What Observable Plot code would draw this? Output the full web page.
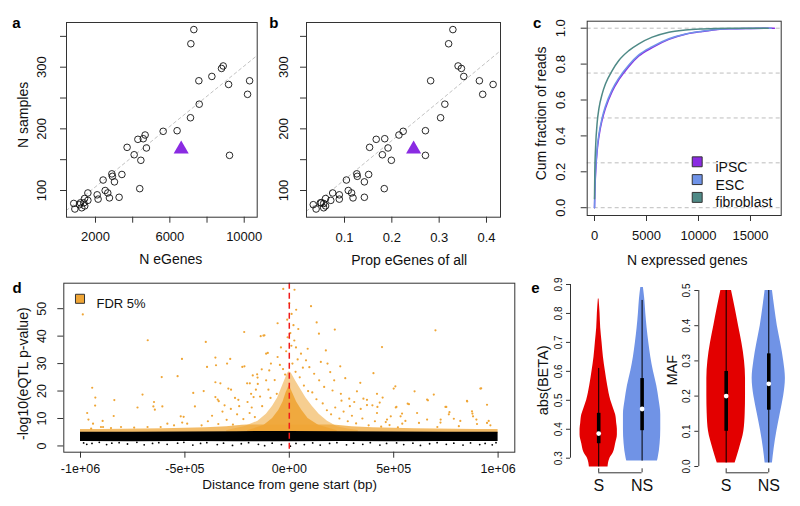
<!DOCTYPE html>
<html><head><meta charset="utf-8">
<script src="https://cdn.jsdelivr.net/npm/d3@7"></script>
<script src="https://cdn.jsdelivr.net/npm/@observablehq/plot@0.6"></script>
<style>
html,body{margin:0;padding:0;background:#fff;}
#fig{position:relative;width:800px;height:506px;overflow:hidden;background:#fff;}
#fig svg{position:absolute;left:0;top:0;}
</style></head><body><div id="fig"></div>
<script>
// ---------- Panels a & b ----------
const nSamples = [361,338,302,298,285,278,278,272,256,240,218,197,196,190,184,183,170,169,158,157,149,127,123,126,114,117,100,96,88,89,103,93,86,96,84,87,80,80,77,79,70,72,75];
const nEGenes = [7290,7130,8870,8780,8260,7560,10290,9160,10180,7580,7110,6390,5640,4670,4570,4280,3700,4740,4080,9210,4440,2880,2910,3420,3020,2410,2520,2660,2750,3270,4380,2090,2140,1590,1590,1410,1190,1370,1140,830,890,1260,1420];
const propEGenes = [0.329,0.320,0.340,0.347,0.352,0.282,0.385,0.414,0.392,0.312,0.303,0.271,0.224,0.215,0.185,0.167,0.153,0.192,0.180,0.271,0.199,0.126,0.127,0.151,0.142,0.104,0.108,0.115,0.118,0.142,0.184,0.089,0.089,0.075,0.071,0.060,0.051,0.049,0.034,0.056,0.040,0.056,0.060];
const ipscPoint = {samples: 167, egenes: 6610, prop: 0.246};
const fitA = {intercept: 57, slope: 0.0245};
const fitB = {intercept: 54, slope: 635};
const aXTicks = [2000,4000,6000,8000,10000];
const aXLabels = ["2000","","6000","","10000"];
const bXTicks = [0.1,0.2,0.3,0.4];
const bXLabels = ["0.1","0.2","0.3","0.4"];
const abYTicks = [100,150,200,250,300,350];
const abYLabels = ["100","","200","","300",""];

// ---------- Panel c ----------
const cSeries = ["iPSC","ESC","fibroblast"];
const cColors = ["#8a2be2","#6f93e8","#4f8a87"];
const cGenesIPSC = [0,30,100,260,420,740,1060,1700,2340,3300,4260,5550,7150,8750,10350,11630,13000,15000,17300];
const cFracIPSC  = [0,0.08,0.19,0.32,0.395,0.49,0.555,0.648,0.713,0.787,0.845,0.892,0.938,0.966,0.982,0.992,0.997,0.999,1.0];
const cGenesESC  = [0,30,100,260,420,740,1060,1700,2340,3300,4260,5550,7150,8750,10350,11630,13000,15000,17000];
const cFracESC   = [0,0.09,0.20,0.333,0.408,0.502,0.567,0.658,0.722,0.795,0.851,0.897,0.941,0.968,0.983,0.993,0.997,0.999,1.0];
const cGenesFib  = [0,30,100,260,420,740,1060,1700,2340,3300,4260,5550,7150,8750,10350,11630,13000,15000,16700];
const cFracFib   = [0.05,0.2,0.33,0.476,0.55,0.634,0.69,0.764,0.82,0.875,0.913,0.95,0.978,0.99,0.996,0.999,1.0,1.0,1.0];
const cGrid = [0,0.25,0.5,0.75,1.0];
const cXTicks = [0,5000,10000,15000];
const cXLabels = ["0","5000","10000","15000"];
const cYTicks = [0,0.2,0.4,0.6,0.8,1.0];
const cYLabels = ["0.0","0.2","0.4","0.6","0.8","1.0"];

// ---------- Panel d (x in units of 1e5 bp) ----------
const dXTicks = [-10,-5,0,5,10];
const dXLabels = ["-1e+06","-5e+05","0e+00","5e+05","1e+06"];
const dYTicks = [0,10,20,30,40,50];
const dYLabels = ["0","10","20","30","40","50"];
const dBandX = [-10,-7.5,-5,-2.5,0,2.5,5,7.5,10];
const dBandTop = [5.0,5.0,5.1,5.2,5.3,5.2,5.1,5.0,5.0];
const dBandBottom = [1.6,1.5,1.6,1.5,1.5,1.6,1.5,1.6,1.6];
const dFringeX = [-10,-8,-6,-4,-3,-2,2,3,4,6,8,10];
const dFringeTop = [6.0,6.1,6.3,6.6,7.0,7.6,7.6,7.0,6.6,6.3,6.1,6.0];
const dOuterX = [-3.0,-2.6,-2.15,-1.5,-1.1,-0.8,-0.56,-0.4,-0.24,-0.08,0,0.1,0.32,0.56,0.8,1.1,1.43,1.83,2.3,2.8,3.3];
const dOuterTop = [5.5,6.3,7.0,9.0,11.5,14.5,17.5,20.5,23.5,26.5,27,26.5,23.5,20.5,17.5,14.5,11.5,9.0,7.0,6.2,5.6];
const dInnerX = [-2.0,-1.2,-0.8,-0.5,-0.3,-0.15,0,0.15,0.35,0.6,0.9,1.4,2.3];
const dInnerTop = [5.5,7.5,10,13,16,19.5,22,19.5,16,13,10,7.5,5.5];
const dSigPts = [[-9.89,47.9],[-9.44,21.2],[-9.29,17.6],[-9.3,14.7],[-9.68,12.0],[-9.62,9.6],[-8.38,16.7],[-8.41,10.9],[-8.92,6.9],[-7.03,18.7],[-7.27,14.0],[-6.78,38.5],[-6.48,16.0],[-6.51,14.4],[-6.11,25.1],[-5.35,25.4],[-5.14,31.7],[-5.06,10.6],[-4.6,19.3],[-4.52,14.4],[-4.1,20.0],[-4.0,37.9],[-3.94,28.8],[-3.54,32.2],[-3.51,29.4],[-3.54,23.2],[-3.3,22.8],[-3.54,17.8],[-3.43,16.9],[-2.83,31.7],[-2.98,30.0],[-2.92,20.9],[-2.79,20.5],[-2.16,41.5],[-2.25,28.8],[-2.02,22.8],[-1.89,22.8],[-1.37,40.0],[-1.54,26.1],[-1.52,24.9],[-1.71,17.8],[-1.24,40.2],[-1.11,33.6],[-1.32,27.9],
[-0.29,57.2],[0.25,56.9],[1.04,50.9],[0.33,49.6],[0.11,48.1],[1.31,45.0],[0.43,42.6],[-0.56,44.7],[-1.19,40.3],[2.18,42.4],[1.42,40.9],[-2.15,29.0],[-1.03,33.9],[0.88,35.4],[1.75,34.8],[1.51,30.6],[1.96,26.9],[2.44,29.0],[2.68,24.7],[4.03,26.5],[-1.75,25.7],[-3.38,16.3],[-2.44,16.8],[-1.83,19.0],[-1.51,22.6],[-1.11,23.9],[-0.96,27.5],[-0.88,30.0],[-0.56,32.4],[-0.4,35.9],[-0.08,39.6],[0.05,41.1],[0.24,38.4],[0.32,35.9],[0.56,33.6],[0.8,31.2],[0.96,28.7],[1.19,26.3],[1.43,23.9],[1.67,21.5],[2.07,20.2],[2.47,19.0],[2.87,17.2],[3.11,16.0],[3.55,17.2],[3.42,13.5],[3.98,14.8],[2.15,23.9],[1.83,30.0],
[7.0,42.1],[4.44,36.0],[5.08,21.7],[5.0,20.9],[6.0,19.9],[9.15,20.9],[6.6,16.9],[6.92,18.7],[5.67,15.4],[5.13,14.2],[7.48,14.2],[8.51,16.4],[9.47,15.0],[7.67,12.3],[8.75,12.6],[8.8,10.8],[5.4,11.8],[5.56,9.1],[9.55,9.1],[8.19,9.1],[7.24,8.5],[4.2,19.0],[3.72,16.8],[3.24,19.9],[3.4,23.0],[3.72,14.9],[4.2,12.0],[4.68,9.6],[6.12,12.0],[6.6,9.6],[8.99,8.0],
[-9.4,8.1],[-8.94,9.1],[-6.44,13.2],[-6.08,14.4],[-5.2,10.8],[-5.13,8.5],[-4.89,8.1],[-5.52,7.5],[-5.84,8.1],[-6.16,6.9],[-6.79,6.9],[-7.43,6.7],[-8.06,6.9],[-8.54,6.5],[-9.02,6.9],[-9.49,6.3],
[9.19,21.0],[4.47,17.6],[4.33,15.8],[4.22,14.2],[5.1,14.0],[5.73,15.2],[6.64,16.6],[7.52,14.2],[7.64,11.5],[8.52,16.2],[8.77,11.8],[8.96,9.6],[7.88,9.9],[7.25,9.6],[6.21,8.4],[5.33,10.8],[5.41,8.1],[4.86,10.8],[4.62,8.7],[9.47,8.4],[9.63,7.5],[7.09,6.9],[8.12,7.2],
[-4.2,7.5],[-3.9,9.0],[-3.7,11.0],[-3.4,8.0],[-3.2,12.5],[-3.0,9.5],[-2.8,13.5],[-2.7,7.8],[-2.5,11.5],[-2.4,14.5],[-2.2,9.8],[-2.0,16.0],[-1.9,12.0],[-1.8,14.0],[-1.65,10.5],[-1.4,18.0],[-1.3,14.5],[-1.0,20.5],[-0.9,17.5],[-0.7,24.0],[-0.6,19.0],[-0.3,28.0],[-0.2,26.0],[0.15,30.0],[0.3,27.0],[0.5,25.0],[0.7,22.0],[0.9,20.0],[1.1,19.5],[1.3,17.0],[1.6,15.5],[1.8,13.0],[2.0,11.5],[2.2,14.0],[2.4,10.0],[2.6,12.5],[2.8,9.0],[3.0,11.0],[3.2,8.2],[3.5,10.0],[3.8,7.5],[4.1,9.0],[4.4,7.0],[4.8,7.6],[5.2,6.8],[2.9,14.5],[2.5,16.5],[-2.6,17.5],[-3.1,14.8],[-1.6,20.5],[0.4,31.5],[-0.45,29.5],[0.65,28.5],[-0.15,34.5],[0.1,36.5],[0.2,44.0],[-0.1,46.0],[0.0,52.0]];
const dLowPts = [[-9.85,1.1],[-9.7,0.6],[-9.45,0.9],[-9.1,1.3],[-8.75,0.5],[-8.5,1.0],[-8.15,1.2],[-7.75,0.7],[-7.3,1.3],[-6.95,0.4],[-6.55,0.9],[-6.25,1.2],[-5.85,0.6],[-5.35,1.0],[-5.05,1.3],[-4.62,0.3],[-4.25,0.9],[-3.95,1.2],[-3.45,0.5],[-3.15,1.0],[-2.72,0.2],[-2.3,0.8],[-1.95,1.2],[-1.48,0.6],[-1.18,0.1],[-0.82,1.0],[-0.38,0.5],[0.05,-0.1],[0.32,0.9],[0.72,0.5],[1.12,1.1],[1.48,0.3],[1.93,0.9],[2.28,1.2],[2.74,0.4],[3.08,1.0],[3.52,0.6],[3.88,1.2],[4.34,0.3],[4.66,0.9],[5.14,1.1],[5.48,0.5],[5.92,1.0],[6.28,0.2],[6.72,0.8],[7.08,1.2],[7.52,0.6],[7.88,1.0],[8.32,0.3],[8.68,1.1],[9.12,0.5],[9.38,0.9],[9.72,0.4],[9.9,1.2]];

// ---------- Panel e ----------
const eGroups = ["S","NS"];
const eColors = ["#e30000","#7093e6"];
const eBetaSY = [0.27,0.30,0.32,0.35,0.38,0.40,0.42,0.45,0.47,0.50,0.55,0.60,0.65,0.70,0.75,0.80,0.85];
const eBetaSW = [0.215,0.26,0.34,0.39,0.43,0.43,0.415,0.39,0.345,0.277,0.207,0.154,0.108,0.077,0.046,0.031,0.008];
const eBetaNSY = [0.29,0.30,0.35,0.40,0.45,0.50,0.55,0.60,0.65,0.70,0.75,0.80,0.85,0.89];
const eBetaNSW = [0.353,0.369,0.415,0.43,0.43,0.392,0.338,0.261,0.2,0.154,0.115,0.085,0.061,0.03];
const eMafY = [0.01,0.05,0.10,0.15,0.20,0.25,0.30,0.35,0.40,0.45,0.50];
const eMafSW = [0.21,0.31,0.415,0.446,0.454,0.454,0.43,0.37,0.29,0.21,0.125];
const eMafNSW = [0.086,0.125,0.19,0.27,0.35,0.39,0.35,0.28,0.2,0.14,0.086];
const eBetaBox = [{lo:0.27,q1:0.35,med:0.385,q3:0.455,hi:0.61},{lo:0.29,q1:0.395,med:0.47,q3:0.575,hi:0.845}];
const eMafBox = [{lo:0.01,q1:0.10,med:0.20,q3:0.27,hi:0.5},{lo:0.01,q1:0.16,med:0.235,q3:0.32,hi:0.5}];
const eBetaTicks = [0.3,0.4,0.5,0.6,0.7,0.8,0.9];
const eMafTicks = [0,0.1,0.2,0.3,0.4,0.5];

// ---------- helpers ----------
const FONT = '"Liberation Sans", Arial, Helvetica, sans-serif';
const AX = "#333", TXT = "#111", ORANGE = "#efa535";
const fig = document.getElementById("fig");
function mk(frame, xDomain, yDomain, marks) {
  const [l, t, r, b] = frame;
  const svg = Plot.plot({
    width: 800, height: 506,
    marginLeft: l, marginTop: t, marginRight: 800 - r, marginBottom: 506 - b,
    x: {domain: xDomain, axis: null},
    y: {domain: yDomain, axis: null},
    style: {background: "transparent", fontFamily: FONT, fontSize: "13px", color: TXT, overflow: "visible"},
    marks
  });
  fig.append(svg);
}
function xAxis(ticks, labels, yDom, o) {
  return [
    Plot.ruleX(ticks, {x: d => d, y1: yDom[0], y2: yDom[0], insetBottom: -o.len, stroke: AX}),
    Plot.text(ticks, {x: d => d, text: (d, i) => labels[i], frameAnchor: "bottom", textAnchor: "middle", dy: o.dy, fontSize: o.fs, fill: TXT})
  ];
}
function yAxis(ticks, labels, xDom, o) {
  return [
    Plot.ruleY(ticks, {y: d => d, x1: xDom[0], x2: xDom[0], insetLeft: -o.len, stroke: AX}),
    Plot.text(ticks, {y: d => d, text: (d, i) => labels[i], frameAnchor: "left", textAnchor: "middle", dx: o.dx, rotate: -90, fontSize: o.fs, fill: TXT})
  ];
}
function yTitle(s, dx, dy, fs) {
  return Plot.text([s], {frameAnchor: "left", textAnchor: "middle", dx, dy, rotate: -90, fontSize: fs, fill: TXT});
}
function xTitle(s, dx, dy, fs) {
  return Plot.text([s], {frameAnchor: "bottom", textAnchor: "middle", dx, dy, fontSize: fs, fill: TXT});
}
function letter(s, dx, dy) {
  return Plot.text([s], {frameAnchor: "top-left", textAnchor: "middle", dx, dy, fontWeight: "bold", fontSize: 15, fill: "#000"});
}
const abData = nSamples.map((s, i) => ({samples: s, egenes: nEGenes[i], prop: propEGenes[i]}));

// ---------- panel a ----------
{
  const frame = [66, 22, 256.7, 216.7], xDom = [440, 10699], yDom = [56.7, 372.5];
  const fit = xDom.map(x => ({x, y: fitA.intercept + fitA.slope * x}));
  mk(frame, xDom, yDom, [
    Plot.line(fit, {x: "x", y: "y", stroke: "#c2c2c2", strokeDasharray: "3,3", strokeWidth: 1, clip: true}),
    Plot.dot(abData, {x: "egenes", y: "samples", r: 3.3, stroke: "#111", strokeWidth: 0.9, fill: "none"}),
    Plot.dot([ipscPoint], {x: "egenes", y: "samples", symbol: "triangle", r: 5.6, fill: "#8a2be2"}),
    Plot.frame({stroke: AX}),
    ...xAxis(aXTicks, aXLabels, yDom, {len: 6, dy: 24, fs: 13}),
    ...yAxis(abYTicks, abYLabels, xDom, {len: 6, dx: -24.3, fs: 13}),
    xTitle("N eGenes", 9, 46.3, 14),
    yTitle("N samples", -42.7, -5, 14),
    letter("a", -50, -4.7)
  ]);
}
// ---------- panel b ----------
{
  const frame = [306, 22, 500, 216.7], xDom = [0.0197, 0.4296], yDom = [56.7, 372.5];
  const fit = xDom.map(x => ({x, y: fitB.intercept + fitB.slope * x}));
  mk(frame, xDom, yDom, [
    Plot.line(fit, {x: "x", y: "y", stroke: "#c2c2c2", strokeDasharray: "3,3", strokeWidth: 1, clip: true}),
    Plot.dot(abData, {x: "prop", y: "samples", r: 3.3, stroke: "#111", strokeWidth: 0.9, fill: "none"}),
    Plot.dot([ipscPoint], {x: "prop", y: "samples", symbol: "triangle", r: 5.6, fill: "#8a2be2"}),
    Plot.frame({stroke: AX}),
    ...xAxis(bXTicks, bXLabels, yDom, {len: 6, dy: 24.8, fs: 13}),
    ...yAxis(abYTicks, abYLabels, xDom, {len: 6, dx: -22.7, fs: 13}),
    xTitle("Prop eGenes of all", 5.7, 47.3, 14),
    letter("b", -32.7, -5)
  ]);
}
// ---------- panel c ----------
{
  const frame = [586.7, 20.7, 780.7, 215], xDom = [-702, 17952], yDom = [-0.0434, 1.039];
  const series = [
    cGenesIPSC.map((g, i) => ({g, f: cFracIPSC[i]})),
    cGenesESC.map((g, i) => ({g, f: cFracESC[i]})),
    cGenesFib.map((g, i) => ({g, f: cFracFib[i]}))
  ];
  const legend = cSeries.flatMap((name, i) => [
    Plot.dot([name], {frameAnchor: "top-left", dx: 110, dy: 140.6 + i * 17.8, symbol: "square", r: 5.6, fill: cColors[i], stroke: "#333", strokeWidth: 1}),
    Plot.text([name], {frameAnchor: "top-left", dx: 128.3, dy: 140.6 + i * 17.8, textAnchor: "start", fontSize: 14, fill: TXT})
  ]);
  mk(frame, xDom, yDom, [
    Plot.ruleY(cGrid, {y: d => d, stroke: "#bdbdbd", strokeDasharray: "4,3", strokeWidth: 1}),
    ...series.map((s, i) => Plot.line(s, {x: "g", y: "f", stroke: cColors[i], strokeWidth: 1.5, curve: "monotone-x"})),
    Plot.frame({stroke: AX}),
    ...xAxis(cXTicks, cXLabels, yDom, {len: 6, dy: 24.3, fs: 13}),
    ...yAxis(cYTicks, cYLabels, xDom, {len: 6, dx: -26.7, fs: 13}),
    xTitle("N expressed genes", 3, 49.3, 14),
    yTitle("Cum fraction of reads", -46, -5, 14),
    ...legend,
    letter("c", -50, -3.7)
  ]);
}
// ---------- panel d ----------
{
  const frame = [63.3, 282.7, 514.3, 451.7], xDom = [-10.8, 10.8], yDom = [-2.28, 59.28];
  const band = dBandX.map((x, i) => ({x, lo: dBandBottom[i], hi: dBandTop[i]}));
  const fringe = dFringeX.map((x, i) => ({x, hi: dFringeTop[i]}));
  const outer = dOuterX.map((x, i) => ({x, hi: dOuterTop[i]}));
  const inner = dInnerX.map((x, i) => ({x, hi: dInnerTop[i]}));
  mk(frame, xDom, yDom, [
    Plot.areaY(fringe, {x: "x", y1: 4.5, y2: "hi", fill: ORANGE, fillOpacity: 0.75, curve: "monotone-x"}),
    Plot.areaY(outer, {x: "x", y1: 4.5, y2: "hi", fill: ORANGE, fillOpacity: 0.55, curve: "linear"}),
    Plot.areaY(inner, {x: "x", y1: 4.5, y2: "hi", fill: ORANGE, fillOpacity: 0.9, curve: "linear"}),
    Plot.dot(dSigPts, {x: d => d[0], y: d => d[1], r: 1.1, fill: ORANGE, stroke: "none"}),
    Plot.areaY(band, {x: "x", y1: "lo", y2: "hi", fill: "#000"}),
    Plot.dot(dLowPts, {x: d => d[0], y: d => d[1], r: 0.9, fill: "#000", stroke: "none"}),
    Plot.ruleX([0], {x: d => d, stroke: "#f01c1c", strokeWidth: 1.5, strokeDasharray: "6,4"}),
    Plot.frame({stroke: AX}),
    ...xAxis(dXTicks, dXLabels, yDom, {len: 6, dy: 21, fs: 12.5}),
    ...yAxis(dYTicks, dYLabels, xDom, {len: 6, dx: -21.6, fs: 12.5}),
    xTitle("Distance from gene start (bp)", 0.4, 36.6, 13.5),
    yTitle("-log10(eQTL p-value)", -40, 6, 14),
    Plot.dot(["FDR 5%"], {frameAnchor: "top-left", dx: 16.2, dy: 15.6, symbol: "square", r: 5.1, fill: ORANGE, stroke: "#333", strokeWidth: 1}),
    Plot.text(["FDR 5%"], {frameAnchor: "top-left", dx: 32.7, dy: 15.6, textAnchor: "start", fontSize: 13, fill: TXT}),
    letter("d", -46.6, -1)
  ]);
}
// ---------- panel e ----------
function violinMarks(ys, wsS, wsNS, ysNS, box) {
  const vS = ys.map((y, i) => ({y, w: wsS[i]}));
  const vNS = ysNS.map((y, i) => ({y, w: wsNS[i]}));
  const bx = box.map((b, i) => ({...b, pos: i + 1}));
  return [
    Plot.areaX(vS, {y: "y", x1: d => 1 - d.w, x2: d => 1 + d.w, fill: eColors[0], curve: "monotone-y"}),
    Plot.areaX(vNS, {y: "y", x1: d => 2 - d.w, x2: d => 2 + d.w, fill: eColors[1], curve: "monotone-y"}),
    Plot.ruleX(bx, {x: "pos", y1: "lo", y2: "hi", stroke: "#000", strokeWidth: 1}),
    Plot.ruleX(bx, {x: "pos", y1: "q1", y2: "q3", stroke: "#000", strokeWidth: 3.6}),
    Plot.dot(bx, {x: "pos", y: "med", r: 2.4, fill: "#fff", stroke: "none"})
  ];
}
function eAxes(ticks, xDom, yDom, bracketDy, labelDy) {
  return [
    Plot.ruleX([xDom[0]], {x: d => d, y1: ticks[0], y2: ticks[ticks.length - 1], stroke: AX}),
    ...yAxis(ticks, ticks.map(t => t.toFixed(1)), xDom, {len: 4, dx: -11.7, fs: 10}),
    Plot.ruleY([yDom[0]], {y: d => d, x1: 1, x2: 2, dy: bracketDy, stroke: AX}),
    Plot.ruleX([1, 2], {x: d => d, y1: yDom[0], y2: yDom[0], dy: bracketDy, insetTop: -4, stroke: AX}),
    Plot.text(eGroups, {x: (d, i) => i + 1, text: d => d, frameAnchor: "bottom", textAnchor: "middle", dy: labelDy, fontSize: 16, fill: TXT})
  ];
}
{
  const frame = [570, 284, 663.3, 457.7], xDom = [0.35, 2.5], yDom = [0.3, 0.9];
  mk(frame, xDom, yDom, [
    ...violinMarks(eBetaSY, eBetaSW, eBetaNSW, eBetaNSY, eBetaBox),
    ...eAxes(eBetaTicks, xDom, yDom, 14.6, 32.3),
    yTitle("abs(BETA)", -26.7, 9, 14.5),
    letter("e", -35, -2.3)
  ]);
}
{
  const frame = [698.3, 290, 790, 466], xDom = [0.357, 2.51], yDom = [0, 0.5];
  mk(frame, xDom, yDom, [
    ...violinMarks(eMafY, eMafSW, eMafNSW, eMafY, eMafBox),
    ...eAxes(eMafTicks, xDom, yDom, 6.3, 24),
    yTitle("MAF", -26.6, -8.3, 14.5)
  ]);
}
</script></body></html>
